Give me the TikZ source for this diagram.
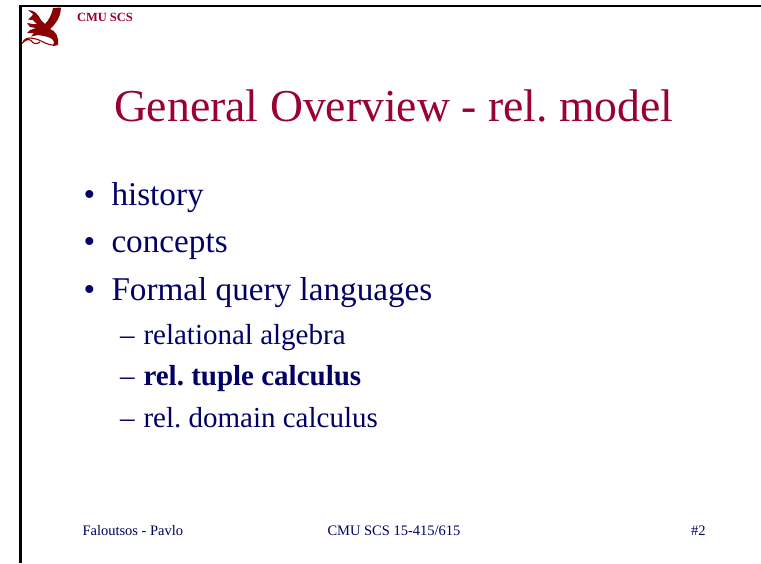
\documentclass[tikz,border=0pt]{standalone}
\usepackage{fontspec}
\setmainfont{Liberation Serif}
\frenchspacing
\definecolor{slidered}{HTML}{990033}
\definecolor{slideblue}{HTML}{000066}
\definecolor{dragonred}{HTML}{8B0000}
\tikzset{
  txt/.style={anchor=base west,inner sep=0pt,outer sep=0pt,text=slideblue},
  lvlone/.style={txt,font=\fontsize{33.2}{36}\selectfont},
  lvltwo/.style={txt,font=\fontsize{29}{32}\selectfont},
  foot/.style={txt,font=\fontsize{14.5}{16}\selectfont},
  framebar/.style={line width=2.5pt,black},
  dragon/.style={fill=dragonred,draw=none}
}
\begin{document}
\begin{tikzpicture}[x=1pt,y=-1pt]
\useasboundingbox (0,0) rectangle (761,563);
\fill[white] (0,0) rectangle (761,563);
\coordinate (tl) at (20.3,6.2);
\coordinate (tr) at (761,6.2);
\coordinate (bl) at (20.3,563);
\draw[framebar] (tr) -- (tl) -- (bl);
% dragon
\fill[dragon] (53,8) -- (61,7.5) .. controls (61,14) and (58,22) .. (50,29)
  .. controls (56,31) and (59,37) .. (58,45) -- (53,46) -- (54,42)
  .. controls (53,38) and (48,37) .. (44,36) -- (38,35) -- (31,36.5) -- (34,33) -- (27,33)
  -- (30,30) -- (36,28) -- (30,27) -- (27,23) -- (33,24) -- (37,24) -- (33,20) -- (28,19.5)
  -- (32,16) -- (33,14) -- (28,10) .. controls (34,10) and (38,14) .. (41,20) -- (45,24)
  .. controls (49,20) and (52,14) .. (53,8) -- cycle;
\draw[dragonred,line width=1.1pt] (55,45) .. controls (47,46) and (42,40) .. (34,38.5)
  .. controls (28,37) and (24,39) .. (23,42.5) .. controls (25,40) and (29,38.5) .. (31,40.5)
  .. controls (33,44) and (37,44.5) .. (40,42);
% text
\node[txt,font=\fontsize{12.5}{14}\selectfont\bfseries,text=slidered] (hdr) at (77,21.5) {CMU SCS};
\node[txt,font=\fontsize{45.7}{50}\selectfont,text=slidered] (title) at (114,121) {General Overview - rel. model};
\node[lvlone] (b1d) at (83.5,205) {•};
\node[lvlone] (b1) at (111.5,205) {history};
\node[lvlone] (b2d) at (83.5,252) {•};
\node[lvlone] (b2) at (111.5,252) {concepts};
\node[lvlone] (b3d) at (83.5,300) {•};
\node[lvlone] (b3) at (111.5,300) {Formal query languages};
\node[lvltwo] (s1d) at (120,344) {–};
\node[lvltwo] (s1) at (143.5,344) {relational algebra};
\node[lvltwo] (s2d) at (120,385) {–};
\node[lvltwo] (s2) at (143.5,385) {\textbf{rel. tuple calculus}};
\node[lvltwo] (s3d) at (120,427) {–};
\node[lvltwo] (s3) at (143.5,427) {rel. domain calculus};
\node[foot] (f1) at (82.5,535) {Faloutsos - Pavlo};
\node[foot] (f2) at (327.5,535) {CMU SCS 15-415/615};
\node[foot] (f3) at (691,535) {\#2};
\end{tikzpicture}
\end{document}
